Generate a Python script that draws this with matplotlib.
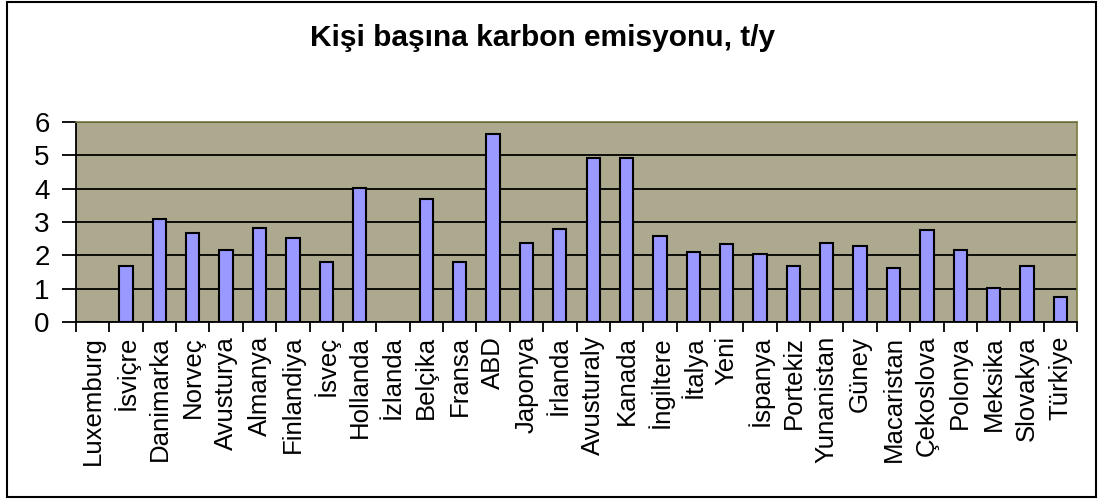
import matplotlib
matplotlib.use("Agg")
import matplotlib.pyplot as plt
from matplotlib.patches import Rectangle

countries = ["Luxemburg", "İsviçre", "Danimarka", "Norveç", "Avusturya", "Almanya",
             "Finlandiya", "İsveç", "Hollanda", "İzlanda", "Belçika", "Fransa", "ABD",
             "Japonya", "İrlanda", "Avusturaly", "Kanada", "İngiltere", "İtalya", "Yeni",
             "İspanya", "Portekiz", "Yunanistan", "Güney", "Macaristan", "Çekoslova",
             "Polonya", "Meksika", "Slovakya", "Türkiye"]
values = [0, 1.69, 3.1, 2.68, 2.16, 2.81, 2.52, 1.8, 4.03, 0, 3.69, 1.8, 5.63,
          2.38, 2.8, 4.93, 4.93, 2.57, 2.1, 2.33, 2.04, 1.69, 2.38, 2.28, 1.63,
          2.75, 2.16, 1.03, 1.69, 0.75]
yticks = [0, 1, 2, 3, 4, 5, 6]
title = "Kişi başına karbon emisyonu, t/y"

plt.rcParams['font.family'] = ['Liberation Sans', 'DejaVu Sans']

fig = plt.figure(figsize=(11, 4.99), dpi=100)
fig.patch.set_facecolor('white')
fig.patches.append(Rectangle((7 / 1100, 2 / 499), 1089 / 1100, 495 / 499,
                             transform=fig.transFigure, fill=False,
                             edgecolor='black', linewidth=1.5))

ax = fig.add_axes([76 / 1100, (499 - 322) / 499, 1001 / 1100, 200 / 499])
ax.set_facecolor('#ADA98F')
n = len(countries)
xs = [i + 0.5 for i in range(n)]
ax.bar(xs, values, width=0.4, color='#9999FF', edgecolor='black', linewidth=1.5, zorder=3)
ax.set_xlim(0, n)
ax.set_ylim(0, 6)
ax.set_yticks(yticks)
ax.set_yticklabels([str(v) for v in yticks], fontsize=20)
ax.yaxis.grid(True, color='black', linewidth=1.3, zorder=1)
ax.set_axisbelow(True)
ax.set_xticks(range(n + 1))
ax.set_xticklabels([])
ax.set_xticks(xs, minor=True)
ax.set_xticklabels(countries, minor=True, rotation=90, fontsize=18.5, va='top', ha='center')
ax.tick_params(axis='x', which='minor', length=0, pad=10)
ax.tick_params(axis='x', which='major', length=7, width=1.3, direction='out')
ax.tick_params(axis='y', length=10, width=1.3, direction='out', pad=9)
for s in ['top', 'right']:
    ax.spines[s].set_color('#7A7A40')
    ax.spines[s].set_linewidth(1.2)
for s in ['left', 'bottom']:
    ax.spines[s].set_color('black')
    ax.spines[s].set_linewidth(1.3)

fig.text(543 / 1100, 1 - 38 / 499, title, ha='center', va='center',
         fontsize=21.5, fontweight='bold')

fig.savefig('out.png', dpi=100)
